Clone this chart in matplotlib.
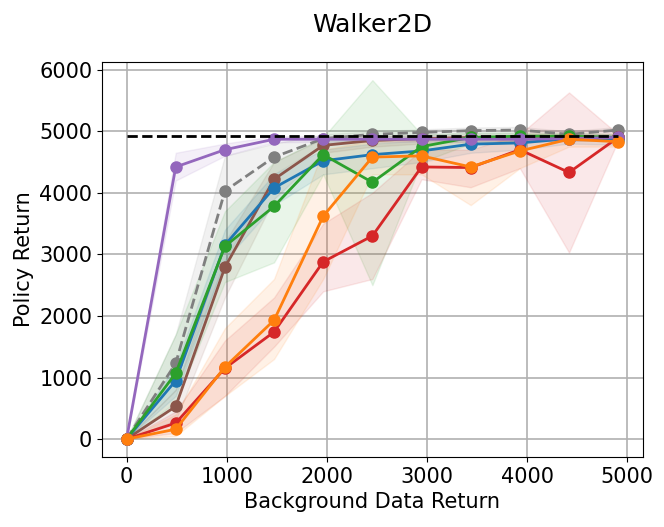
import matplotlib
matplotlib.use("Agg")
import matplotlib.pyplot as plt
import numpy as np

x = [0, 491, 982, 1473, 1964, 2455, 2946, 3437, 3928, 4419, 4910]
expert_return = 4920

gray_mean = [0, 1230, 4030, 4580, 4880, 4950, 4980, 5010, 5020, 4950, 5020]
gray_lo = [0, 800, 2900, 4300, 4780, 4900, 4940, 4960, 4970, 4900, 4970]
gray_hi = [0, 1700, 4600, 4800, 4950, 5000, 5030, 5060, 5070, 5000, 5070]

brown_mean = [0, 530, 2790, 4220, 4770, 4850, 4880, 4900, 4900, 4900, 4900]
brown_lo = [0, 300, 2300, 3900, 4650, 4750, 4800, 4830, 4840, 4850, 4850]
brown_hi = [0, 800, 3200, 4500, 4880, 4920, 4940, 4950, 4950, 4950, 4950]

blue_mean = [0, 950, 3150, 4080, 4520, 4620, 4680, 4790, 4810, 4880, 4860]
blue_lo = [0, 700, 2900, 3800, 4300, 4400, 4500, 4650, 4700, 4800, 4780]
blue_hi = [0, 1200, 3400, 4300, 4700, 4800, 4850, 4900, 4900, 4950, 4930]

green_mean = [0, 1070, 3130, 3780, 4620, 4170, 4750, 4900, 4920, 4920, 4900]
green_lo = [0, 600, 2550, 2870, 4300, 2500, 4500, 4800, 4850, 4850, 4850]
green_hi = [0, 1700, 3700, 4500, 4900, 5830, 4950, 4980, 4980, 4980, 4950]

red_mean = [0, 260, 1150, 1740, 2880, 3300, 4420, 4410, 4700, 4330, 4900]
red_lo = [0, 100, 700, 1500, 2400, 2600, 4220, 4090, 4400, 3030, 4850]
red_hi = [0, 450, 1600, 2300, 3500, 4000, 4700, 4700, 4950, 5630, 4950]

purple_mean = [0, 4420, 4700, 4870, 4870, 4870, 4870, 4870, 4870, 4880, 4900]
purple_lo = [0, 4200, 4600, 4820, 4830, 4830, 4830, 4830, 4830, 4840, 4860]
purple_hi = [0, 4650, 4800, 4920, 4920, 4920, 4920, 4920, 4920, 4920, 4940]

orange_mean = [0, 160, 1170, 1930, 3620, 4580, 4600, 4420, 4680, 4870, 4830]
orange_lo = [0, 50, 700, 1300, 2600, 4300, 4300, 3800, 4400, 4750, 4750]
orange_hi = [0, 400, 1800, 2600, 4700, 4850, 4850, 4900, 4850, 4950, 4900]

series = [
    ("tab:gray", gray_mean, gray_lo, gray_hi, "--"),
    ("tab:brown", brown_mean, brown_lo, brown_hi, "-"),
    ("tab:blue", blue_mean, blue_lo, blue_hi, "-"),
    ("tab:green", green_mean, green_lo, green_hi, "-"),
    ("tab:red", red_mean, red_lo, red_hi, "-"),
    ("tab:purple", purple_mean, purple_lo, purple_hi, "-"),
    ("tab:orange", orange_mean, orange_lo, orange_hi, "-"),
]

fig = plt.figure(figsize=(6.64, 5.27), dpi=100)
ax = fig.add_axes([0.1536, 0.1328, 0.8144, 0.7492])

for color, m, lo, hi, ls in series:
    ax.fill_between(x, lo, hi, color=color, alpha=0.1)
for color, m, lo, hi, ls in series:
    ax.plot(x, m, color=color, linestyle=ls, linewidth=2, marker="o", markersize=8)

ax.hlines(expert_return, x[0], x[-1], colors="black", linestyles="--", linewidth=2, zorder=5)

ax.grid(True, linewidth=1.2)
ax.set_axisbelow(True)
ax.tick_params(labelsize=15)
ax.set_xlabel("Background Data Return", fontsize=15)
ax.set_ylabel("Policy Return", fontsize=15)
ax.set_title("Walker2D", fontsize=18, pad=22)
ax.set_xticks([0, 1000, 2000, 3000, 4000, 5000])
ax.set_yticks([0, 1000, 2000, 3000, 4000, 5000, 6000])

fig.savefig("out.png", dpi=100)
